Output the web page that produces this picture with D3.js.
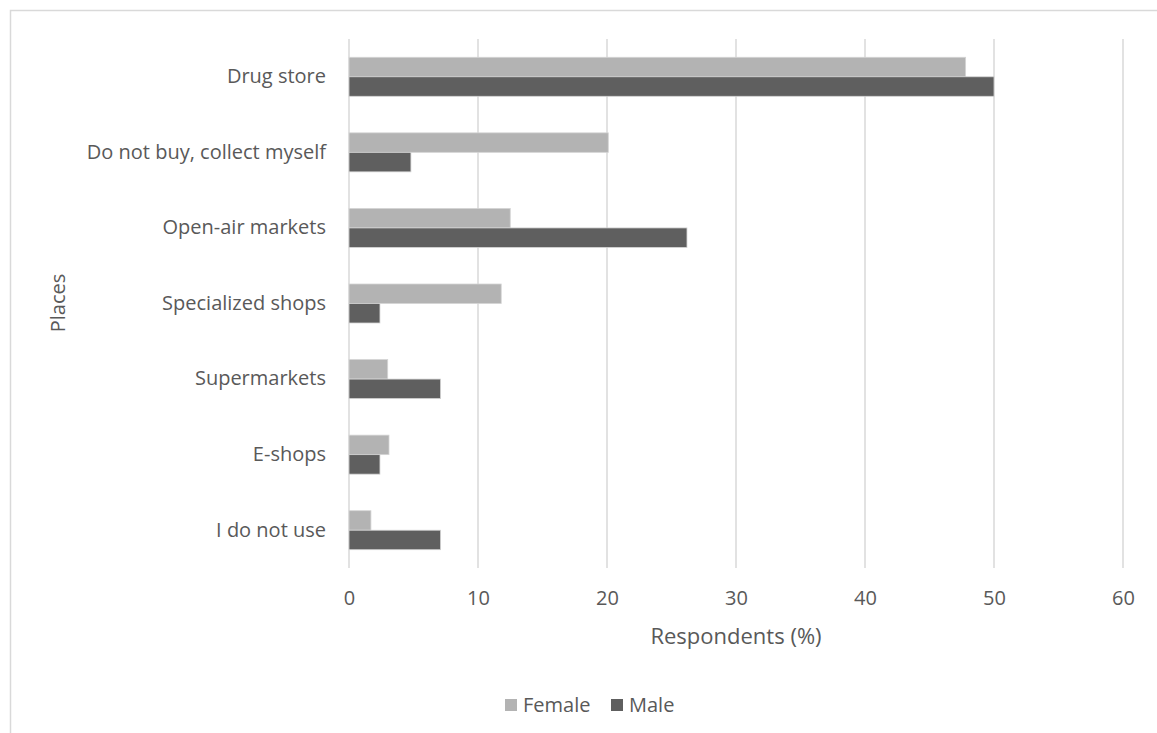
<!DOCTYPE html>
<html>
<head>
<meta charset="utf-8">
<script src="https://cdn.jsdelivr.net/npm/d3@7"></script>
<style>
    body { margin: 0; background: #fff; }
    text { font-family: "Open Sans", sans-serif; fill: #595959; }
</style>
</head>
<body>
<div id="chart"></div>
<script>

// data
var places = ["Drug store", "Do not buy, collect myself", "Open-air markets", "Specialized shops",
    "Supermarkets", "E-shops", "I do not use"];
var female = [47.8, 20.1, 12.5, 11.8, 3.0, 3.1, 1.7];
var male = [50.0, 4.8, 26.2, 2.4, 7.1, 2.4, 7.1];
var seriesNames = ["Female", "Male"];
var xTicks = [0, 10, 20, 30, 40, 50, 60];

var colors = {Female: "#b3b3b3", Male: "#5f5f5f"};

var width = 1157, height = 733;
var margin = {top: 39, bottom: 165, left: 349, right: 34};

var svg = d3.select("#chart").append("svg")
    .attr("width", width)
    .attr("height", height);

// chart frame (right and bottom sides fall outside the picture)
svg.append("rect")
    .attr("x", 10.5).attr("y", 10.5)
    .attr("width", width + 20).attr("height", height + 20)
    .attr("fill", "none")
    .attr("stroke", "#d9d9d9")
    .attr("stroke-width", 1.5);

var x = d3.scaleLinear()
    .domain([0, 60])
    .range([margin.left, width - margin.right]);

var y = d3.scaleBand()
    .domain(places)
    .range([margin.top, height - margin.bottom])
    .paddingInner(0.484)
    .paddingOuter(0.242);

var ySub = d3.scaleBand()
    .domain(seriesNames)
    .range([0, y.bandwidth()]);

// gridlines
svg.append("g").selectAll("line")
    .data(xTicks)
    .enter().append("line")
    .attr("x1", function(d) { return x(d); })
    .attr("x2", function(d) { return x(d); })
    .attr("y1", margin.top)
    .attr("y2", height - margin.bottom)
    .attr("stroke", "#d9d9d9")
    .attr("stroke-width", 1.5);

// x axis tick labels
var xAxis = d3.axisBottom(x).tickValues(xTicks).tickSize(0).tickPadding(23);
var xg = svg.append("g")
    .attr("transform", "translate(0," + (height - margin.bottom) + ")")
    .call(xAxis);
xg.select(".domain").remove();
xg.selectAll("text").style("font-size", "20px").attr("fill", "#595959");

// y axis category labels
var yAxis = d3.axisLeft(y).tickSize(0).tickPadding(23);
var yg = svg.append("g")
    .attr("transform", "translate(" + margin.left + ",0)")
    .call(yAxis);
yg.select(".domain").remove();
yg.selectAll("text").style("font-size", "20px").attr("fill", "#595959");

// bars
var rows = places.map(function(p, i) {
    return {place: p, Female: female[i], Male: male[i]};
});

var groups = svg.append("g").selectAll("g")
    .data(rows)
    .enter().append("g")
    .attr("transform", function(d) { return "translate(0," + y(d.place) + ")"; });

groups.selectAll("rect")
    .data(function(d) { return seriesNames.map(function(s) { return {key: s, value: d[s]}; }); })
    .enter().append("rect")
    .attr("x", x(0))
    .attr("y", function(d) { return ySub(d.key); })
    .attr("width", function(d) { return x(d.value) - x(0); })
    .attr("height", ySub.bandwidth())
    .attr("fill", function(d) { return colors[d.key]; })
    .attr("stroke", "#d4d4d4")
    .attr("stroke-width", 0.8);

// axis titles
svg.append("text")
    .attr("x", 736)
    .attr("y", 644)
    .attr("text-anchor", "middle")
    .style("font-size", "22px")
    .text("Respondents (%)");

svg.append("text")
    .attr("transform", "translate(58,303) rotate(-90)")
    .attr("text-anchor", "middle")
    .attr("dy", "0.35em")
    .style("font-size", "20px")
    .text("Places");

// legend
var legend = svg.append("g").attr("transform", "translate(505,699)");
var legendX = [0, 106];
seriesNames.forEach(function(s, i) {
    legend.append("rect")
        .attr("x", legendX[i]).attr("y", 0)
        .attr("width", 12).attr("height", 12)
        .attr("fill", colors[s]);
    legend.append("text")
        .attr("x", legendX[i] + 18).attr("y", 13)
        .style("font-size", "20px")
        .text(s);
});

</script>
</body>
</html>
